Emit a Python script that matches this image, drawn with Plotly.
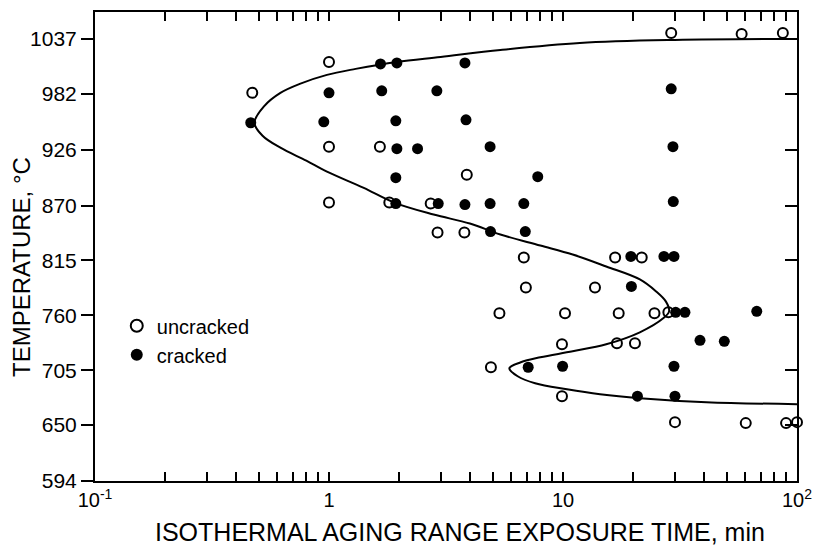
import plotly.graph_objects as go

# ---- data ----
uncracked_time = [29, 58, 87, 1.0, 0.47, 1.0, 1.65, 3.88, 1.0, 1.81, 2.72, 2.91, 3.79,
                  6.8, 16.7, 21.7, 6.94, 13.7, 5.35, 10.2, 17.3, 24.6, 28.2,
                  9.9, 17.0, 20.3, 4.92, 9.9, 30.1, 60.4, 89.8, 100]
uncracked_temp = [1043, 1042, 1043, 1014, 983, 929, 929, 901, 873, 873, 872, 843, 843,
                  818, 818, 818, 788, 788, 762, 762, 762, 762, 763,
                  731, 732, 732, 708, 679, 653, 652, 652, 653]

cracked_time = [1.66, 1.95, 3.81, 1.0, 1.68, 2.89, 29, 0.463, 0.95, 1.93, 3.85,
                1.95, 2.39, 4.88, 29.5, 1.93, 7.8, 1.93, 2.93, 3.81, 4.88, 6.8, 29.6,
                4.9, 6.9, 19.5, 27, 29.8, 19.6, 30.3, 33.2, 67.3, 38.5, 48.9,
                7.1, 9.96, 29.8, 20.8, 30.1]
cracked_temp = [1012, 1013, 1013, 983, 985, 985, 987, 953, 954, 955, 956,
                927, 927, 929, 929, 898, 899, 872, 872, 871, 872, 872, 874,
                844, 844, 819, 819, 819, 789, 763, 763, 764, 735, 734,
                708, 709, 709, 679, 679]

curve_time = [100, 30, 11.8, 5.4, 3.0, 1.95, 1.3, 0.98, 0.75, 0.62, 0.53, 0.48, 0.52,
              0.62, 0.8, 0.98, 1.4, 1.9, 2.8, 4.0, 5.4, 8.0, 11, 15.3, 21.3, 25, 27.5,
              28.4, 26.8, 21.3, 15.3, 11, 8, 6.6, 5.9, 6.4, 7.6, 10.4, 14.4, 21.3, 41, 100]
curve_temp = [1037, 1036, 1033, 1026, 1019, 1014, 1007, 1001, 992, 983, 970, 953, 940,
              928, 915, 904, 888, 873, 861, 852, 841, 830, 821, 809, 796, 784, 774,
              764, 757, 743, 731, 724, 718, 713, 707, 699, 692, 686, 681, 677, 673, 671]

temp_ticks = [594, 650, 705, 760, 815, 870, 926, 982, 1037]
time_ticks = [0.1, 1, 10, 100]
time_ticktext = ["10<sup>-1</sup>", "1", "10", "10<sup>2</sup>"]

x_title = "ISOTHERMAL AGING RANGE EXPOSURE TIME, min"
y_title = "TEMPERATURE, °C"

FONT = "Liberation Sans, Arial, sans-serif"

fig = go.Figure()
fig.add_trace(go.Scatter(
    x=curve_time, y=curve_temp, mode="lines",
    line=dict(color="black", width=2, shape="spline", smoothing=1.0),
    showlegend=False, hoverinfo="skip"))
fig.add_trace(go.Scatter(
    x=uncracked_time, y=uncracked_temp, mode="markers", name="uncracked",
    marker=dict(symbol="circle-open", size=10, color="black", line=dict(width=2, color="black")),
    cliponaxis=False))
fig.add_trace(go.Scatter(
    x=cracked_time, y=cracked_temp, mode="markers", name="cracked",
    marker=dict(symbol="circle", size=11, color="black", line=dict(width=0)),
    cliponaxis=False))
# invisible helper trace so the right-hand axis (inward ticks) is drawn
fig.add_trace(go.Scatter(x=[1], y=[800], yaxis="y2", mode="markers",
                         marker=dict(opacity=0), showlegend=False, hoverinfo="skip"))

fig.update_layout(
    width=816, height=547,
    margin=dict(l=95, r=19, t=12, b=66, autoexpand=False),
    paper_bgcolor="white", plot_bgcolor="white",
    font=dict(family=FONT, color="black", size=18),
    xaxis=dict(
        type="log", range=[-1, 2], automargin=False,
        tickmode="array", tickvals=time_ticks, ticktext=time_ticktext,
        ticks="inside", ticklen=9, tickwidth=1.5, tickcolor="black",
        minor=dict(ticks="inside", ticklen=6, tickwidth=1.5, tickcolor="black", dtick="D1", showgrid=False),
        showline=True, linecolor="black", linewidth=2, mirror="allticks",
        showgrid=False, zeroline=False,
        tickfont=dict(size=20),
    ),
    yaxis=dict(
        range=[594, 1064], automargin=False,
        tickmode="array", tickvals=temp_ticks,
        ticks="outside", ticklen=12, tickwidth=1.5, tickcolor="black",
        showline=True, linecolor="black", linewidth=2,
        showgrid=False, zeroline=False,
        tickfont=dict(size=21),
    ),
    yaxis2=dict(
        overlaying="y", side="right", anchor="x", matches="y", automargin=False,
        tickmode="array", tickvals=temp_ticks, showticklabels=False,
        ticks="inside", ticklen=12, tickwidth=1.5, tickcolor="black",
        showline=True, linecolor="black", linewidth=2,
        showgrid=False, zeroline=False,
    ),
    legend=dict(
        x=0.031, y=0.30, xanchor="left", yanchor="middle",
        bgcolor="rgba(0,0,0,0)", font=dict(size=20),
        itemsizing="constant",
    ),
    showlegend=True,
    annotations=[
        dict(text=x_title, xref="paper", yref="paper", x=0.52, y=-0.1087,
             xanchor="center", yanchor="middle", showarrow=False, font=dict(size=25)),
        dict(text=y_title, xref="paper", yref="paper", x=-0.104, y=0.4563,
             xanchor="center", yanchor="middle", textangle=-90, showarrow=False, font=dict(size=24)),
    ],
)

fig.write_html(
    "out.html",
    config={"displayModeBar": False},
    post_script="document.body.style.margin='0px'; document.body.style.overflow='hidden';",
)
